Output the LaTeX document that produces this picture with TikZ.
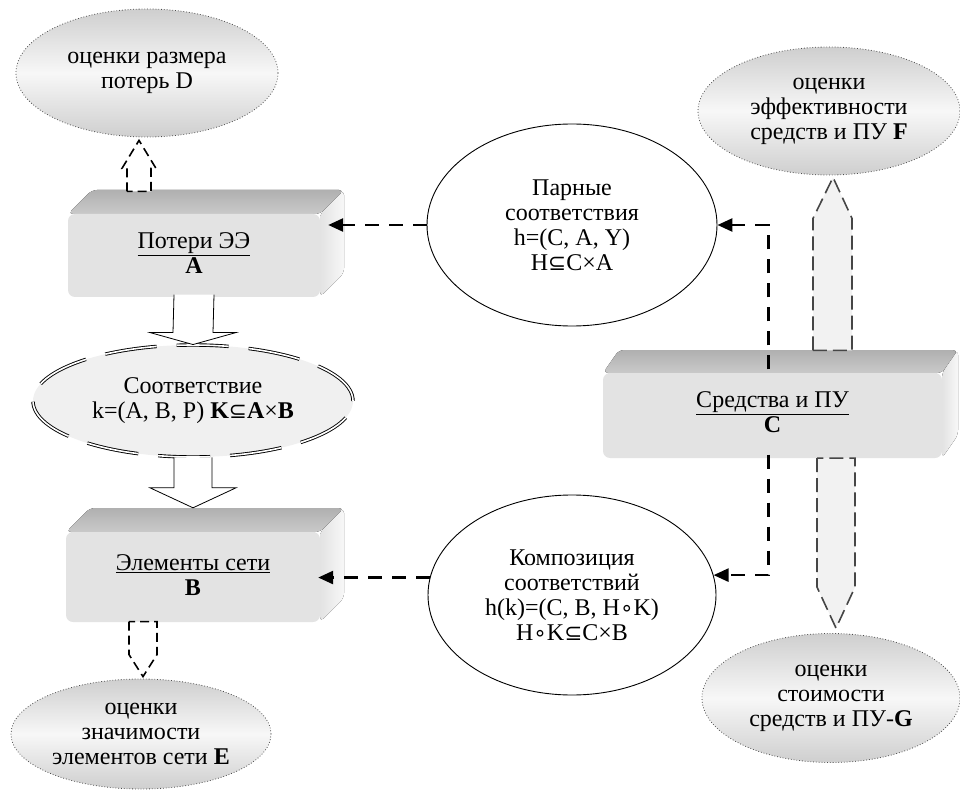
\documentclass[tikz,border=0pt]{standalone}
\usepackage{fontspec}
\setmainfont{Liberation Serif}
\newfontfamily\symf[Scale=0.9]{DejaVu Sans}
\usetikzlibrary{shapes.geometric,arrows.meta,calc}
\newcommand\threedbox[6]{%
 \fill[rounded corners=5pt, top color=gray!62, bottom color=gray!42] (#1,#2) -- (#1+#5,#2-#6) -- (#3+#5,#2-#6) -- (#3,#2) -- cycle;
 \fill[rounded corners=5pt, left color=gray!22, right color=gray!6] (#3,#2) -- (#3+#5,#2-#6) -- (#3+#5,#4-#6) -- (#3,#4) -- cycle;
 \fill[rounded corners=7pt, gray!22] (#1,#2) rectangle (#3,#4);
}
\newcommand\sube{{\symf ⊆}}
\newcommand\comp{{\symf ∘}}
\begin{document}
\begin{tikzpicture}[x=1pt,y=-1pt,
 font=\fontsize{24}{25}\selectfont,
 conn/.style={line width=2.6pt, dash pattern=on 14pt off 10pt, -{Triangle[length=15pt,width=13pt]}},
 est/.style={ellipse, draw=gray!60!black, dotted, line width=0.8pt, top color=gray!38, bottom color=gray!38, middle color=gray!6, align=center, inner sep=0pt},
 rel/.style={ellipse, draw, line width=0.9pt, fill=white, align=center, inner sep=0pt},
 face/.style={align=center, inner sep=0pt},
 hollow/.style={draw, line width=0.8pt, fill=white},
 dhollow/.style={draw, line width=1.6pt, dash pattern=on 9pt off 5pt, fill=white},
 ghollow/.style={draw=gray!55!black, line width=1.6pt, dash pattern=on 14pt off 6pt, fill=gray!10},
]
\useasboundingbox (0,0) rectangle (960,791);

% boxes
\threedbox{68}{214}{320}{297}{24}{24}
\node[face, minimum width=252pt, minimum height=83pt] (A) at (194,253) {\underline{Потери ЭЭ}\\\textbf{A}};
\threedbox{66}{532}{320}{622}{24}{24}
\node[face, minimum width=254pt, minimum height=90pt] (B) at (193,575) {\underline{Элементы сети}\\\textbf{B}};
\threedbox{603}{373}{942}{458}{16}{23}
\node[face, minimum width=339pt, minimum height=85pt] (C) at (772.5,412) {\underline{Средства и ПУ}\\\textbf{C}};

% estimate ellipses
\node[est, minimum width=262pt, minimum height=128pt] (D) at (147,73) {оценки размера\\потерь D};
\node[est, minimum width=260pt, minimum height=110pt] (E) at (141,734) {оценки\\значимости\\элементов сети \textbf{E}};
\node[est, minimum width=262pt, minimum height=128pt] (F) at (829,111) {оценки\\эффективности\\средств и ПУ \textbf{F}};
\node[est, minimum width=258pt, minimum height=129pt] (G) at (831,698) {оценки\\стоимости\\средств и ПУ-\textbf{G}};

% relation ellipses
\node[rel, minimum width=290pt, minimum height=202pt] (H) at (572,225) {Парные\\соответствия\\h=(C, A, Y)\\H\sube C×A};
\node[rel, minimum width=288pt, minimum height=200pt] (HK) at (572,595) {Композиция\\соответствий\\h(k)=(C, B, H\comp K)\\H\comp K\sube C×B};
\node[ellipse, draw, double, double distance=1.6pt, line width=0.9pt, dash pattern=on 52pt off 20pt, fill=gray!12, minimum width=320pt, minimum height=112pt, align=center, inner sep=0pt] (K) at (193,401) {Соответствие\\k=(A, B, P) \textbf{K}\sube\textbf{A}×\textbf{B}};

% hollow arrows
\draw[hollow] ($(A.south)+(-20,0)$) -- ($(K.north)+(-20,-12)$) -- ($(K.north)+(-43,-12)$) -- (K.north) -- ($(K.north)+(43,-12)$) -- ($(K.north)+(20,-12)$) -- ($(A.south)+(20,0)$);
\coordinate (Btip) at ($(B.north)+(0,-22)$);
\draw[hollow] ($(K.south)+(-19,0)$) -- ($(Btip)+(-19,-20)$) -- ($(Btip)+(-43,-20)$) -- (Btip) -- ($(Btip)+(43,-20)$) -- ($(Btip)+(19,-20)$) -- ($(K.south)+(19,0)$);

\coordinate (Dtip) at ($(D.south)+(-8,3)$);
\draw[dhollow] ($(Dtip)+(-12,51)$) -- ($(Dtip)+(-12,28)$) -- ($(Dtip)+(-17,28)$) -- (Dtip) -- ($(Dtip)+(17,28)$) -- ($(Dtip)+(12,28)$) -- ($(Dtip)+(12,51)$) -- cycle;
\coordinate (Etip) at ($(E.north)+(2,-2)$);
\draw[dhollow] ($(Etip)+(-14,-55)$) -- ($(Etip)+(-14,-22)$) -- (Etip) -- ($(Etip)+(14,-22)$) -- ($(Etip)+(14,-55)$) -- cycle;
\coordinate (Ftip) at ($(F.south)+(4,2)$);
\draw[ghollow] ($(Ftip)+(-20,173)$) -- ($(Ftip)+(-20,41)$) -- (Ftip) -- ($(Ftip)+(19,41)$) -- ($(Ftip)+(19,173)$) -- cycle;
\coordinate (Gtip) at ($(G.north)+(5,-5)$);
\draw[ghollow] ($(Gtip)+(-19,-170)$) -- ($(Gtip)+(-19,-41)$) -- (Gtip) -- ($(Gtip)+(19,-41)$) -- ($(Gtip)+(19,-170)$) -- cycle;

% dashed connectors
\coordinate (Aport) at ($(A.east)+(8,0)$);
\coordinate (Bport) at ($(B.east)+(-2,0)$);
\draw[conn] (H.west) -- (H.west -| Aport);
\draw[conn] (HK.173) -- (HK.173 -| Bport);
\draw[conn] ($(C.north)+(-4,0)$) |- (H.east);
\draw[conn] ($(C.south)+(-4,0)$) |- (HK.8);
\end{tikzpicture}
\end{document}
